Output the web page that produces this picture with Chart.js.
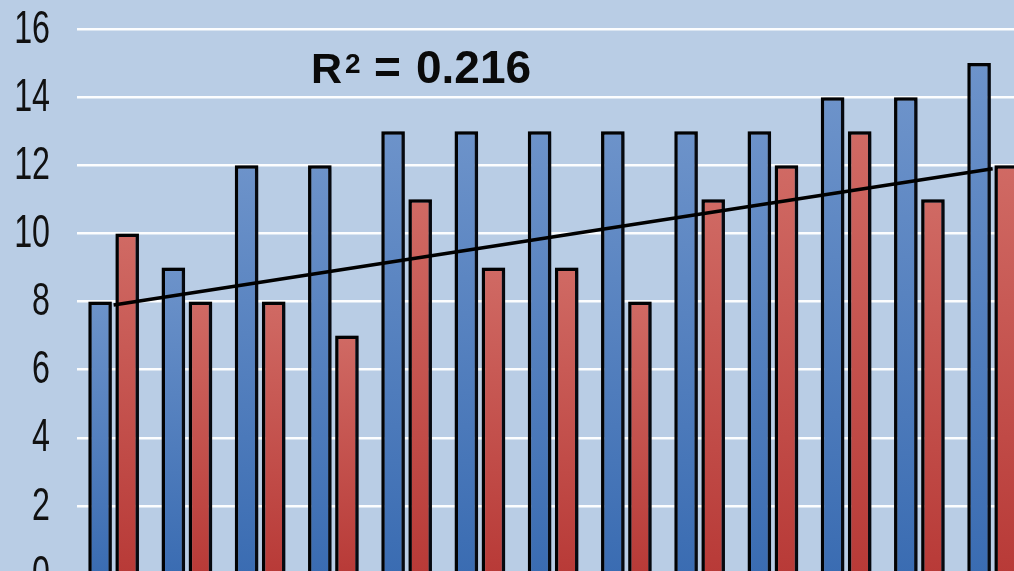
<!DOCTYPE html>
<html>
<head>
<meta charset="utf-8">
<script src="https://cdn.jsdelivr.net/npm/chart.js@4"></script>
<style>
  html, body { margin: 0; padding: 0; overflow: hidden; background: #b9cde5; }
  #wrap { position: relative; width: 1040px; height: 600px; }
</style>
</head>
<body>
<div id="wrap"><canvas id="chart"></canvas></div>
<script>
// data
const categories = ['1', '2', '3', '4', '5', '6', '7', '8', '9', '10', '11', '12', '13'];
const blueValues = [8, 9, 12, 12, 13, 13, 13, 13, 13, 13, 14, 14, 15];
const redValues = [10, 8, 8, 7, 11, 9, 9, 8, 11, 12, 13, 11, 12];
// trend line end points (first and last category)
const trendValues = [7.9, null, null, null, null, null, null, null, null, null, null, null, 11.9];
const yTicks = [0, 2, 4, 6, 8, 10, 12, 14, 16];
const rSquaredLabel = '0.216';

const styles = {
  background: '#b9cde5',
  blueTop: '#6d93ca',
  blueBottom: '#3a6cb2',
  redTop: '#d06a64',
  redBottom: '#b83a37',
  border: '#000000',
  grid: 'rgba(255,255,255,0.95)',
  font: "'Liberation Sans', Arial, sans-serif"
};

// gradient from the top of each bar down to the bottom of the plot
function barGradient(top, bottom) {
  return (context) => {
    const chart = context.chart;
    const area = chart.chartArea;
    if (!area || context.raw == null) return bottom;
    const y0 = chart.scales.y.getPixelForValue(context.raw);
    const g = chart.ctx.createLinearGradient(0, y0, 0, area.bottom);
    g.addColorStop(0, top);
    g.addColorStop(1, bottom);
    return g;
  };
}

const canvasBackground = {
  id: 'canvasBackground',
  beforeDraw: (chart) => {
    const ctx = chart.ctx;
    ctx.save();
    ctx.fillStyle = styles.background;
    ctx.fillRect(0, 0, chart.width, chart.height);
    ctx.restore();
  }
};

// soft shadow behind the bars
const barShadow = {
  id: 'barShadow',
  beforeDatasetDraw: (chart, args) => {
    if (args.meta.type !== 'bar') return;
    const ctx = chart.ctx;
    ctx.save();
    ctx.shadowColor = 'rgba(20,30,50,0.5)';
    ctx.shadowBlur = 6;
    ctx.shadowOffsetX = 3;
    ctx.shadowOffsetY = 1;
  },
  afterDatasetDraw: (chart, args) => {
    if (args.meta.type !== 'bar') return;
    chart.ctx.restore();
  }
};

// condensed y tick labels, placed with the y scale
const narrowTicks = {
  id: 'narrowTicks',
  afterDraw: (chart) => {
    const ctx = chart.ctx;
    const y = chart.scales.y;
    ctx.save();
    ctx.fillStyle = '#111111';
    ctx.font = '46px ' + styles.font;
    ctx.textAlign = 'right';
    ctx.textBaseline = 'middle';
    y.ticks.forEach(t => {
      ctx.save();
      ctx.translate(y.right - 27, y.getPixelForValue(t.value) + 1);
      ctx.scale(0.7, 1);
      ctx.fillText(String(t.value), 0, 0);
      ctx.restore();
    });
    ctx.restore();
  }
};

// "R² = 0.216" label
const rSquared = {
  id: 'rSquared',
  afterDraw: (chart) => {
    const ctx = chart.ctx;
    ctx.save();
    ctx.fillStyle = '#0a0a0a';
    ctx.textBaseline = 'alphabetic';
    ctx.textAlign = 'left';
    ctx.font = 'bold 43px ' + styles.font;
    ctx.fillText('R', 311, 83);
    ctx.font = 'bold 28px ' + styles.font;
    ctx.fillText('2', 345, 73);
    ctx.font = 'bold 46px ' + styles.font;
    ctx.fillText('=', 374, 83);
    ctx.fillText(rSquaredLabel, 416, 83);
    ctx.restore();
  }
};

const config = {
  type: 'bar',
  data: {
    labels: categories,
    datasets: [
      {
        type: 'line',
        label: 'trend',
        data: trendValues,
        spanGaps: true,
        borderColor: '#000000',
        borderWidth: 3.5,
        pointRadius: 0,
        fill: false,
        order: 0
      },
      {
        label: 'blue',
        data: blueValues,
        backgroundColor: barGradient(styles.blueTop, styles.blueBottom),
        borderColor: styles.border,
        borderWidth: 3.5,
        categoryPercentage: 0.74,
        barPercentage: 0.87,
        order: 1
      },
      {
        label: 'red',
        data: redValues,
        backgroundColor: barGradient(styles.redTop, styles.redBottom),
        borderColor: styles.border,
        borderWidth: 3.5,
        categoryPercentage: 0.74,
        barPercentage: 0.87,
        order: 1
      }
    ]
  },
  options: {
    responsive: true,
    maintainAspectRatio: false,
    animation: false,
    layout: { padding: { top: 29, right: 10.75, bottom: 26, left: 0 } },
    plugins: {
      legend: { display: false },
      tooltip: { enabled: false }
    },
    scales: {
      x: { display: false },
      y: {
        min: 0,
        max: 16,
        afterFit: (scale) => {
          scale.width = 77;
          scale.paddingTop = 0;
          scale.paddingBottom = 0;
        },
        afterBuildTicks: (scale) => { scale.ticks = yTicks.map(v => ({ value: v })); },
        border: { display: false },
        grid: { color: styles.grid, lineWidth: 2.5, drawTicks: false },
        ticks: { display: false }
      }
    }
  },
  plugins: [canvasBackground, barShadow, narrowTicks, rSquared]
};

new Chart(document.getElementById('chart'), config);
</script>
</body>
</html>
